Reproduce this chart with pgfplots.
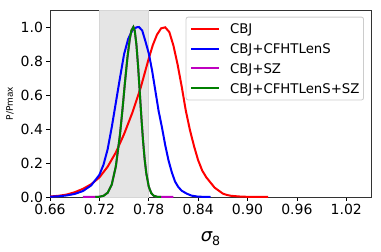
\documentclass[border=0pt]{standalone}
\usepackage{fontspec}
\setmainfont{DejaVu Sans}
\usepackage{pgfplots}
\pgfplotsset{compat=1.18}
\definecolor{mgreen}{rgb}{0,0.5,0}
\definecolor{mmag}{rgb}{0.75,0,0.75}
\begin{document}
\begin{tikzpicture}
\begin{axis}[
  scale only axis, width=321bp, height=187bp,
  xmin=0.66, xmax=1.05, ymin=0, ymax=1.1,
  xtick={0.66,0.72,0.78,0.84,0.90,0.96,1.02},
  ytick={0,0.2,0.4,0.6,0.8,1.0},
  /pgf/number format/assume math mode=true,
  xticklabel style={/pgf/number format/.cd, fixed, fixed zerofill, precision=2},
  yticklabel style={/pgf/number format/.cd, fixed, fixed zerofill, precision=1},
  tick label style={font=\fontsize{14bp}{16bp}\selectfont},
  tick align=outside, xtick pos=bottom, ytick pos=left,
  major tick length=3.5bp,
  tick style={line width=0.8bp, black},
  axis line style={line width=0.8bp, black!80},
  every axis y label/.style={at={(axis description cs:-0.1246,0.5)}, rotate=90, anchor=center, font=\fontsize{9bp}{10bp}\selectfont},
  every axis x label/.style={at={(axis description cs:0.5,-0.238)}, anchor=base},
  ylabel={P/Pmax},
  xlabel={{\fontsize{18bp}{20bp}\selectfont\itshape σ}{\fontsize{12.6bp}{14bp}\selectfont\raisebox{-3.5bp}{8}}},
  legend cell align=left,
  legend style={at={(0.978,0.964)}, anchor=north east, draw=black!20, line width=0.8bp, rounded corners=2bp, fill=white, fill opacity=0.8, text opacity=1, inner xsep=4bp, inner ysep=2bp, font=\fontsize{13.3bp}{16bp}\selectfont, row sep=0bp, nodes={inner sep=0bp, text height=14.85bp, text depth=4.85bp}, /tikz/every odd column/.append style={column sep=10bp}},
  legend image code/.code={\draw[#1] (0bp,0bp) -- (28bp,0bp);},
]
\addplot[fill=black!10, draw=black!16, line width=0.6bp, forget plot] coordinates {(0.72,0) (0.72,1.1) (0.78,1.1) (0.78,0)} -- cycle;

\addplot[red, line width=2bp] coordinates {
(0.660,0.003) (0.670,0.007) (0.680,0.014) (0.690,0.028) (0.700,0.048)
(0.710,0.075) (0.720,0.115) (0.730,0.178) (0.740,0.262) (0.750,0.370)
(0.760,0.495) (0.770,0.640) (0.780,0.815) (0.785,0.895) (0.790,0.955)
(0.795,0.992) (0.800,0.998) (0.805,0.970) (0.810,0.890) (0.815,0.780)
(0.820,0.650) (0.825,0.508) (0.830,0.394) (0.835,0.299) (0.840,0.216)
(0.845,0.155) (0.850,0.115) (0.860,0.055) (0.870,0.020) (0.875,0.012)
(0.880,0.007) (0.890,0.003) (0.900,0.001) (0.925,0.000)};
\addlegendentry{CBJ}

\addplot[blue, line width=2bp] coordinates {
(0.660,0.002) (0.670,0.004) (0.680,0.009) (0.690,0.018) (0.700,0.035)
(0.710,0.068) (0.720,0.130) (0.725,0.190) (0.730,0.280) (0.735,0.410)
(0.740,0.555) (0.745,0.700) (0.750,0.840) (0.755,0.930) (0.760,0.980)
(0.765,0.998) (0.768,1.000) (0.772,0.980) (0.776,0.915) (0.780,0.845)
(0.784,0.745) (0.788,0.625) (0.792,0.505) (0.796,0.410) (0.800,0.305)
(0.804,0.215) (0.808,0.145) (0.812,0.090) (0.816,0.058) (0.820,0.037)
(0.826,0.020) (0.832,0.008) (0.840,0.002) (0.855,0.000)};
\addlegendentry{CBJ+CFHTLenS}

\addplot[mmag, line width=2bp] coordinates {
(0.700,0.000) (0.715,0.0005) (0.720,0.0016) (0.725,0.0069) (0.730,0.0247) (0.735,0.073)
(0.740,0.180) (0.745,0.366) (0.748,0.512) (0.751,0.670) (0.754,0.817)
(0.757,0.932) (0.759,0.980) (0.7613,1.000) (0.763,0.977) (0.765,0.896)
(0.767,0.771) (0.769,0.622) (0.771,0.470) (0.773,0.334) (0.775,0.222)
(0.777,0.139) (0.780,0.061) (0.783,0.023) (0.786,0.0075) (0.790,0.0014)
(0.795,0.0002) (0.810,0.000)};
\addlegendentry{CBJ+SZ}

\addplot[mgreen, line width=2bp] coordinates {
(0.715,0.0005) (0.720,0.0016) (0.725,0.0069) (0.730,0.0247) (0.735,0.073)
(0.740,0.180) (0.745,0.366) (0.748,0.512) (0.751,0.670) (0.754,0.817)
(0.757,0.932) (0.759,0.980) (0.7613,1.000) (0.763,0.977) (0.765,0.896)
(0.767,0.771) (0.769,0.622) (0.771,0.470) (0.773,0.334) (0.775,0.222)
(0.777,0.139) (0.780,0.061) (0.783,0.023) (0.786,0.0075) (0.790,0.0014)
(0.795,0.0002)};
\addlegendentry{CBJ+CFHTLenS+SZ}
\end{axis}
\pgfresetboundingbox
\path[use as bounding box] (-50bp,-55bp) rectangle (331bp,197bp);
\end{tikzpicture}
\end{document}
